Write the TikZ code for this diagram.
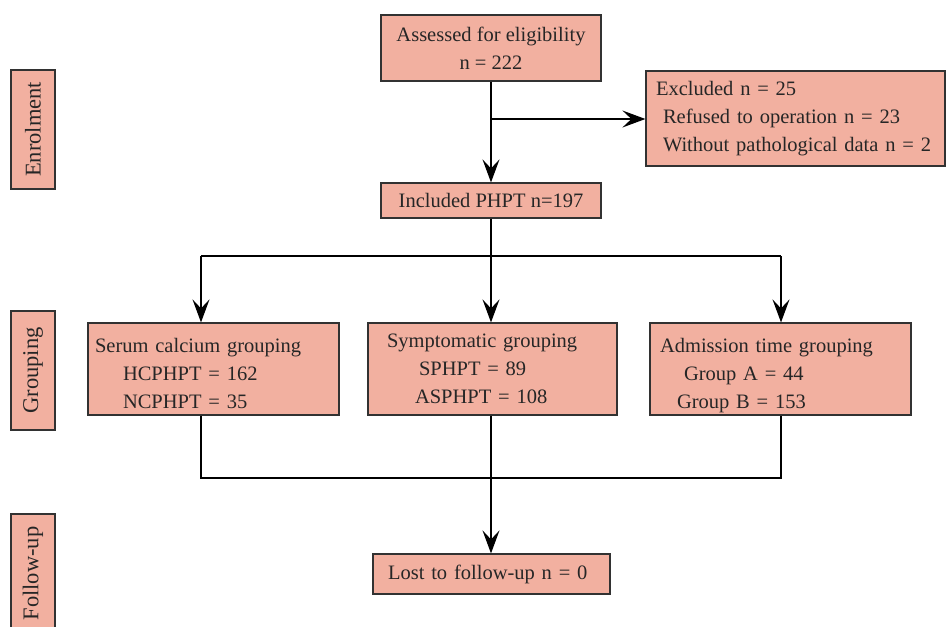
\documentclass[tikz,border=0pt]{standalone}
\usepackage{fontspec}
\setmainfont{Liberation Serif}
\usetikzlibrary{arrows.meta}
\definecolor{boxfill}{RGB}{242,176,160}
\definecolor{boxline}{RGB}{50,50,50}
\tikzset{
  box/.style={draw=boxline, line width=1.2pt, fill=boxfill, inner ysep=0pt,
    font=\fontsize{20.5}{28}\selectfont, text=black!85},
  sidebox/.style={box, rotate=90, minimum width=119pt, minimum height=44pt, inner sep=0pt,
    font=\fontsize{22.5}{27}\selectfont},
  conn/.style={line width=1.2pt, black},
  arr/.style={conn, -{Stealth[length=23pt, width=17pt, inset=9pt]}}
}
\newcommand{\upstrut}{\rule{0pt}{24pt}}
\begin{document}
\begin{tikzpicture}[x=1pt,y=-1pt]
\clip (0,0) rectangle (947,626);
\fill[white] (0,0) rectangle (947,626);

% side labels
\node[sidebox] (enrol) at (33,129.5) {Enrolment};
\node[sidebox] (group) at (33,370.5) {Grouping};
\node[sidebox] (follow) at (33,573.5) {Follow-up};

% main boxes
\node[box, minimum width=220pt, minimum height=66pt, align=center] (assess) at (491,48)
  {Assessed for eligibility\\n = 222};
\node[box, inner xsep=10pt, text width=279pt, minimum height=95pt, align=left] (excl) at (795.5,118.5)
  {Excluded n = 25\\\hspace*{7pt}Refused to operation n = 23\\\hspace*{7pt}Without pathological data n = 2};
\node[box, minimum width=220pt, minimum height=35pt] (incl) at (491,200.5)
  {Included PHPT n=197};
\node[box, inner xsep=7pt, text width=237pt, minimum height=92pt, align=left] (serum) at (213.5,369)
  {\upstrut Serum calcium grouping\\\hspace*{28pt}HCPHPT = 162\\\hspace*{28pt}NCPHPT = 35};
\node[box, inner xsep=19pt, text width=211pt, minimum height=92pt, align=left] (symp) at (492.5,369)
  {Symptomatic grouping\\\hspace*{32pt}SPHPT = 89\\\hspace*{28pt}ASPHPT = 108};
\node[box, inner xsep=10pt, text width=241pt, minimum height=92pt, align=left] (adm) at (780.5,369)
  {\rule{0pt}{27pt}Admission time grouping\\\hspace*{24pt}Group A = 44\\\hspace*{17pt}Group B = 153};
\node[box, inner xsep=15pt, text width=207pt, minimum height=40pt, align=left] (lost) at (491.5,574)
  {Lost to follow-up n = 0};

% connectors
\coordinate (b1) at (491,119);
\coordinate (h1) at (491,256);
\coordinate (hl) at (201,256);
\coordinate (hr) at (781,256);
\coordinate (gl) at (201,478);
\coordinate (gm) at (491,478);
\coordinate (gr) at (781,478);

\draw[arr] (assess.south -| b1) -- (incl.north -| b1);
\draw[arr] (b1) -- (b1 -| excl.west);
\draw[conn] (incl.south -| h1) -- (h1);
\draw[conn] (hl) -- (hr);
\draw[arr] (hl) -- (hl |- serum.north);
\draw[arr] (h1) -- (h1 |- symp.north);
\draw[arr] (hr) -- (hr |- adm.north);
\draw[conn] (serum.south -| gl) -- (gl) -- (gr) -- (adm.south -| gr);
\draw[conn] (symp.south -| gm) -- (gm);
\draw[arr] (gm) -- (gm |- lost.north);
\end{tikzpicture}
\end{document}
